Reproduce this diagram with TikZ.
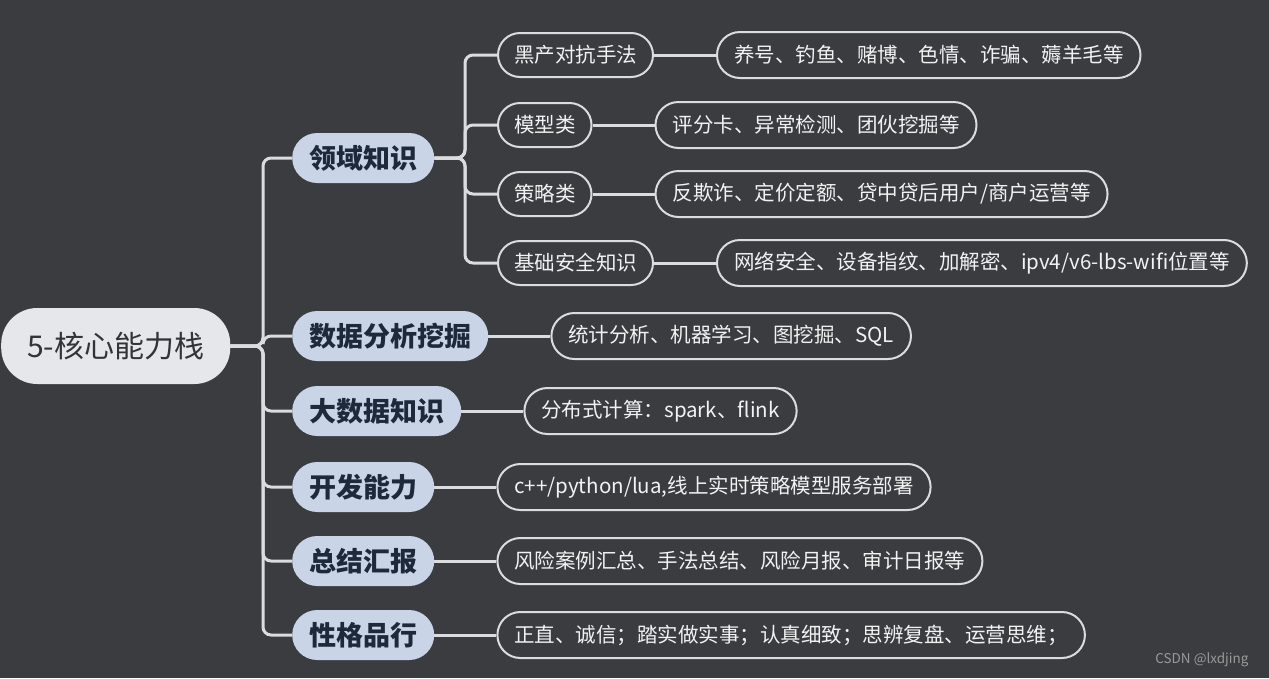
\documentclass[tikz,border=0pt]{standalone}
\usepackage{fontspec}
\setmainfont{Noto Sans CJK SC}
\usetikzlibrary{positioning}

\definecolor{bgdark}{HTML}{3B3C40}
\definecolor{rootfill}{HTML}{E6E7EA}
\definecolor{roottext}{HTML}{33343A}
\definecolor{topicfill}{HTML}{C9D4E6}
\definecolor{topictext}{HTML}{1E2A3C}
\definecolor{linegray}{HTML}{DCDCDE}
\definecolor{leaftext}{HTML}{F2F2F2}

\begin{document}
\begin{tikzpicture}[
  x=1pt, y=-1pt,
  % Node styles
  root/.style={
    rectangle,
    rounded corners=36pt,
    fill=rootfill,
    text=roottext,
    minimum height=76pt,
    inner xsep=26pt,
    font=\fontsize{30}{36}\selectfont
  },
  topic/.style={
    rectangle,
    rounded corners=25pt,
    fill=topicfill,
    text=topictext,
    minimum height=50pt,
    inner xsep=17pt,
    font=\fontsize{27}{32}\selectfont\bfseries
  },
  subtopic/.style={
    rectangle,
    rounded corners=22pt,
    draw=linegray,
    line width=2pt,
    text=leaftext,
    minimum height=44pt,
    inner xsep=16pt,
    font=\fontsize{20.5}{24}\selectfont
  },
  leaf/.style={subtopic, rounded corners=23pt, minimum height=46pt, inner xsep=17pt},
  % Connector style
  link/.style={
    draw=linegray,
    line width=3pt,
    rounded corners=8pt
  },
  wmark/.style={
    font=\fontsize{13.5}{16}\selectfont,
    text=gray!80!white
  }
]

% === BACKGROUND ===
\fill[bgdark] (0,0) rectangle (1269,678);
\useasboundingbox (0,0) rectangle (1269,678);

% === ROOT AND TOPICS ===
\node[root, anchor=west] (core) at (1,346) {5-核心能力栈};

\node[topic, anchor=west] (domain) at (292,158) {领域知识};
\node[topic, anchor=west] (mining) at (292,336) {数据分析挖掘};
\node[topic, anchor=west] (bigdata) at (292,411) {大数据知识};
\node[topic, anchor=west] (dev) at (292,487) {开发能力};
\node[topic, anchor=west] (report) at (292,561) {总结汇报};
\node[topic, anchor=west] (charac) at (292,635) {性格品行};

% === DOMAIN SUBTOPICS ===
\node[subtopic, anchor=west] (attack) at (497,55) {黑产对抗手法};
\node[subtopic, anchor=west] (model) at (497,125) {模型类};
\node[subtopic, anchor=west] (policy) at (497,194) {策略类};
\node[subtopic, anchor=west] (secure) at (497,263) {基础安全知识};

% === LEAVES ===
\node[leaf, right=62pt of attack] (attackleaf) {养号、钓鱼、赌博、色情、诈骗、薅羊毛等};
\node[leaf, right=62pt of model] (modelleaf) {评分卡、异常检测、团伙挖掘等};
\node[leaf, right=62pt of policy] (policyleaf) {反欺诈、定价定额、贷中贷后用户/商户运营等};
\node[leaf, right=62pt of secure] (secureleaf) {网络安全、设备指纹、加解密、ipv4/v6-lbs-wifi位置等};

\node[leaf, right=62pt of mining] (miningleaf) {统计分析、机器学习、图挖掘、SQL};
\node[leaf, right=62pt of bigdata] (bigdataleaf) {分布式计算：spark、flink};
\node[leaf, right=62pt of dev] (devleaf) {c++/python/lua,线上实时策略模型服务部署};
\node[leaf, right=62pt of report] (reportleaf) {风险案例汇总、手法总结、风险月报、审计日报等};
\node[leaf, right=62pt of charac] (characleaf) {正直、诚信；踏实做实事；认真细致；思辨复盘、运营思维；};

% === CONNECTORS ===
\coordinate (trunk) at (263,346);
\coordinate (subtrunk) at (465,158);

\draw[link] (core.east) -- (trunk) |- (domain.west);
\draw[link] (core.east) -- (trunk) |- (mining.west);
\draw[link] (core.east) -- (trunk) |- (bigdata.west);
\draw[link] (core.east) -- (trunk) |- (dev.west);
\draw[link] (core.east) -- (trunk) |- (report.west);
\draw[link] (core.east) -- (trunk) |- (charac.west);

\draw[link] (domain.east) -- (subtrunk) |- (attack.west);
\draw[link] (domain.east) -- (subtrunk) |- (model.west);
\draw[link] (domain.east) -- (subtrunk) |- (policy.west);
\draw[link] (domain.east) -- (subtrunk) |- (secure.west);

\draw[link] (attack.east) -- (attackleaf.west);
\draw[link] (model.east) -- (modelleaf.west);
\draw[link] (policy.east) -- (policyleaf.west);
\draw[link] (secure.east) -- (secureleaf.west);

\draw[link] (mining.east) -- (miningleaf.west);
\draw[link] (bigdata.east) -- (bigdataleaf.west);
\draw[link] (dev.east) -- (devleaf.west);
\draw[link] (report.east) -- (reportleaf.west);
\draw[link] (charac.east) -- (characleaf.west);

% === WATERMARK ===
\node[wmark, anchor=east] (credit) at (1252,660) {CSDN @lxdjing};

\end{tikzpicture}
\end{document}
